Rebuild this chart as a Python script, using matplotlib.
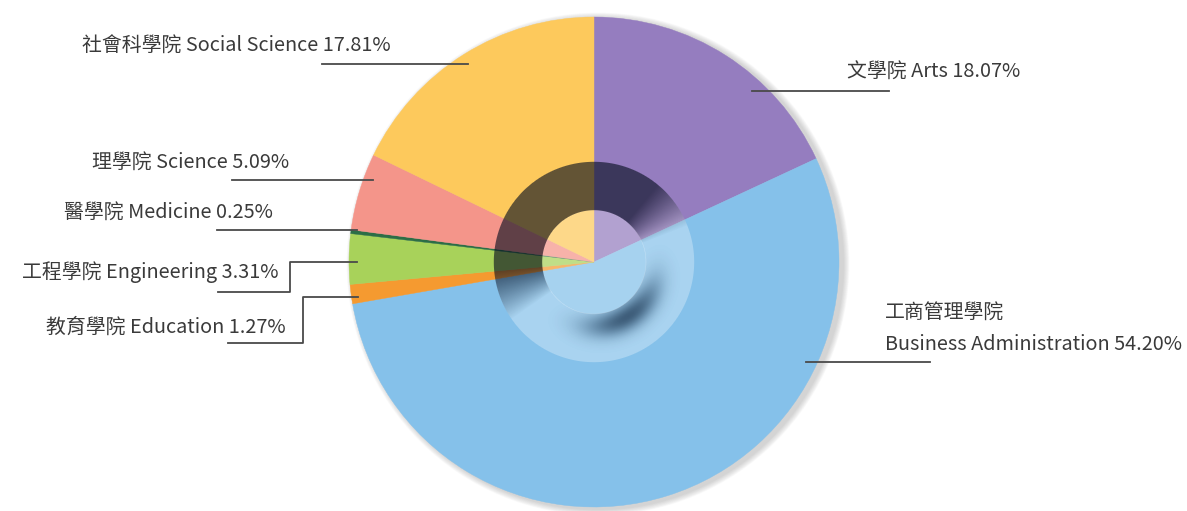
import numpy as np
import matplotlib.pyplot as plt
from matplotlib.patches import Circle

plt.rcParams['font.family'] = ['Noto Sans CJK TC', 'DejaVu Sans']

W, H = 1187, 511

# data, clockwise from 12 o'clock
names_zh = ['文學院', '工商管理學院', '教育學院', '工程學院', '醫學院', '理學院', '社會科學院']
names_en = ['Arts', 'Business Administration', 'Education', 'Engineering',
            'Medicine', 'Science', 'Social Science']
shares = [18.07, 54.20, 1.27, 3.31, 0.25, 5.09, 17.81]
colors = ['#957dbf', '#85c1ea', '#f59a30', '#a8d25a', '#2c6e46', '#f4958a', '#fdc95c']

# label layout in image pixels: text anchor x, y, alignment, leader line points
label_layout = [
    (847, 72, 'left', [(752, 91), (889, 91)]),
    (885, 344, 'left', [(806, 362), (930, 362)]),
    (286, 327, 'right', [(228, 343), (303, 343), (303, 297), (358, 297)]),
    (278, 272, 'right', [(218, 292), (290, 292), (290, 262), (357, 262)]),
    (273, 212, 'right', [(217, 230), (357, 230)]),
    (289, 162, 'right', [(232, 180), (373, 180)]),
    (391, 46, 'right', [(322, 64), (468, 64)]),
]

cx, cy = 594, 262      # pie centre, image pixels
R = 245
r_in, r_out = 52, 100  # centre ring
fs = 14.3

fig = plt.figure(figsize=(W / 100, H / 100), dpi=100)
ax = fig.add_axes([0, 0, 1, 1])

# soft shadow round the pie
for i in range(10):
    ax.add_patch(Circle((cx + 4, H - cy - 2), R + 1 + i * 0.6, color='#808080',
                        alpha=0.035, lw=0, zorder=0))

wedges, _ = ax.pie(shares, colors=colors, startangle=90, counterclock=False,
                   center=(cx, H - cy), radius=R, wedgeprops=dict(linewidth=0.3))
for w in wedges:
    w.set_edgecolor(w.get_facecolor())

# 3D-ish ring in the middle
x0, x1 = cx - 110, cx + 110
y0, y1 = cy - 110, cy + 110
X, Y = np.meshgrid(np.arange(x0, x1) + 0.5, np.arange(y0, y1) + 0.5)
dx, dy = X - cx, Y - cy
r = np.hypot(dx, dy)
phi = np.arctan2(dy, dx)
ring = np.clip(r_out - r + 0.7, 0, 1) * np.clip(r - r_in + 0.7, 0, 1)
hole = np.clip(r_in - r + 0.7, 0, 1)

dark = np.clip((np.cos(phi - np.radians(-118)) + 0.12) / 0.5, 0, 1)
shadow = (np.exp(-((r - r_in - 12) / 13) ** 2)
          * np.clip(np.cos(phi - np.radians(58)), 0, 1) ** 4)
black_a = ring * np.maximum(0.62 * dark, 0.55 * shadow)
white_a = ring * 0.3 * (1 - dark) * (1 - shadow) + hole * 0.28

white = np.zeros(X.shape + (4,))
white[..., :3] = 1
white[..., 3] = white_a
black = np.zeros(X.shape + (4,))
black[..., :3] = [0.02, 0.05, 0.12]
black[..., 3] = black_a
for img in (white, black):
    ax.imshow(img, extent=(x0, x1, H - y1, H - y0), origin='upper',
              interpolation='bilinear', zorder=3)

# labels
for zh, en, v, (tx, ty, ha, pts) in zip(names_zh, names_en, shares, label_layout):
    if en == 'Business Administration':
        ax.text(tx, H - ty + 32, zh, ha=ha, va='center', fontsize=fs, color='#3a3a3a')
        ax.text(tx, H - ty, f'{en} {v:.2f}%', ha=ha, va='center', fontsize=fs, color='#3a3a3a')
    else:
        ax.text(tx, H - ty, f'{zh} {en} {v:.2f}%', ha=ha, va='center', fontsize=fs,
                color='#3a3a3a')
    px, py = zip(*pts)
    ax.plot(px, [H - p for p in py], color='#4a4a4a', lw=1.3, zorder=4)

ax.set_xlim(0, W)
ax.set_ylim(0, H)
ax.set_aspect('equal')
ax.axis('off')
fig.savefig('out.png', dpi=100, facecolor='white')
